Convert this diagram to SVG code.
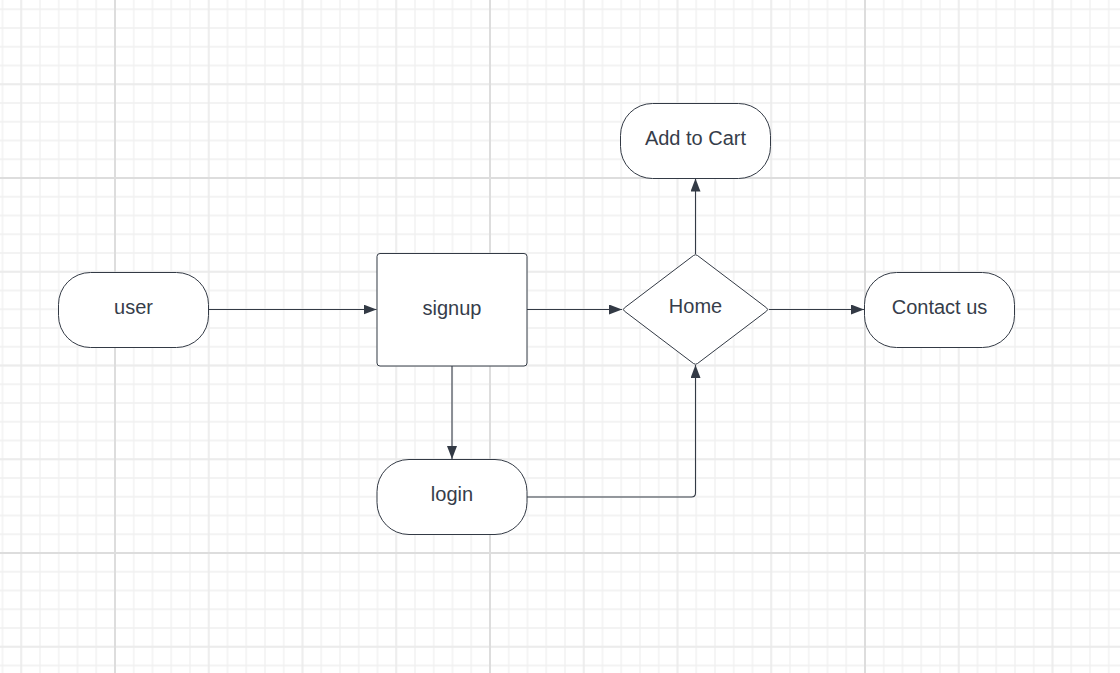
<svg xmlns="http://www.w3.org/2000/svg" width="1120" height="673" viewBox="0 0 1120 673">
<defs>
<pattern id="minor" width="18.75" height="18.75" patternUnits="userSpaceOnUse" x="1.5" y="8.25">
<path d="M0 1H18.75M1 0V18.75" stroke="#f0f0f0" stroke-width="1.3" fill="none"/>
</pattern>
<pattern id="medium" width="93.75" height="93.75" patternUnits="userSpaceOnUse" x="20.25" y="83.25">
<path d="M0 1H93.75M1 0V93.75" stroke="#eaeaea" stroke-width="1.3" fill="none"/>
</pattern>
<pattern id="major" width="375" height="375" patternUnits="userSpaceOnUse" x="113" y="176">
<path d="M0 2H375M2 0V375" stroke="#dddddd" stroke-width="2" fill="none"/>
</pattern>
<marker id="arr" markerWidth="13" markerHeight="10" refX="13" refY="5" orient="auto" markerUnits="userSpaceOnUse">
<path d="M0 0L13 5L0 10Z" fill="#333a45"/>
</marker>
</defs>
<style>
.shape{fill:#ffffff;stroke:#333a45;stroke-width:1}
.lbl{font-family:"Liberation Sans",Arial,sans-serif;font-size:20px;fill:#363d4a;text-anchor:middle}
.conn{fill:none;stroke:#333a45;stroke-width:1.1}
</style>
<rect width="1120" height="673" fill="#ffffff"/>
<rect width="1120" height="673" fill="url(#minor)"/>
<rect width="1120" height="673" fill="url(#medium)"/>
<rect width="1120" height="673" fill="url(#major)"/>
<g id="connectors">
<path class="conn" d="M208.5 309.5H376.5" marker-end="url(#arr)"/>
<path class="conn" d="M527 309.5H622" marker-end="url(#arr)"/>
<path class="conn" d="M769 309.5H864" marker-end="url(#arr)"/>
<path class="conn" d="M695.5 254V178.5" marker-end="url(#arr)"/>
<path class="conn" d="M452 366V459" marker-end="url(#arr)"/>
<path class="conn" d="M527 497H691.5Q695.5 497 695.5 493V365" marker-end="url(#arr)"/>
</g>
<g id="user">
<rect class="shape" x="58.5" y="272.5" width="150" height="75" rx="32" ry="32"/>
<text class="lbl" x="133.5" y="314">user</text>
</g>
<g id="signup">
<rect class="shape" x="377" y="253.5" width="150" height="112.5" rx="3" ry="3"/>
<text class="lbl" x="452" y="315">signup</text>
</g>
<g id="login">
<rect class="shape" x="377" y="459.5" width="150" height="75" rx="32" ry="32"/>
<text class="lbl" x="452" y="501">login</text>
</g>
<g id="home">
<path class="shape" d="M693.5 255.5Q695.5 254 697.5 255.5L766.5 307.8Q768.8 309.5 766.5 311.2L697.5 363.5Q695.5 365 693.5 363.5L624.5 311.2Q622.2 309.5 624.5 307.8Z"/>
<text class="lbl" x="695.5" y="313">Home</text>
</g>
<g id="addtocart">
<rect class="shape" x="620.5" y="103.5" width="150" height="75" rx="32" ry="32"/>
<text class="lbl" x="695.5" y="145">Add to Cart</text>
</g>
<g id="contactus">
<rect class="shape" x="864.5" y="272.5" width="150" height="75" rx="32" ry="32"/>
<text class="lbl" x="939.5" y="314">Contact us</text>
</g>
</svg>
